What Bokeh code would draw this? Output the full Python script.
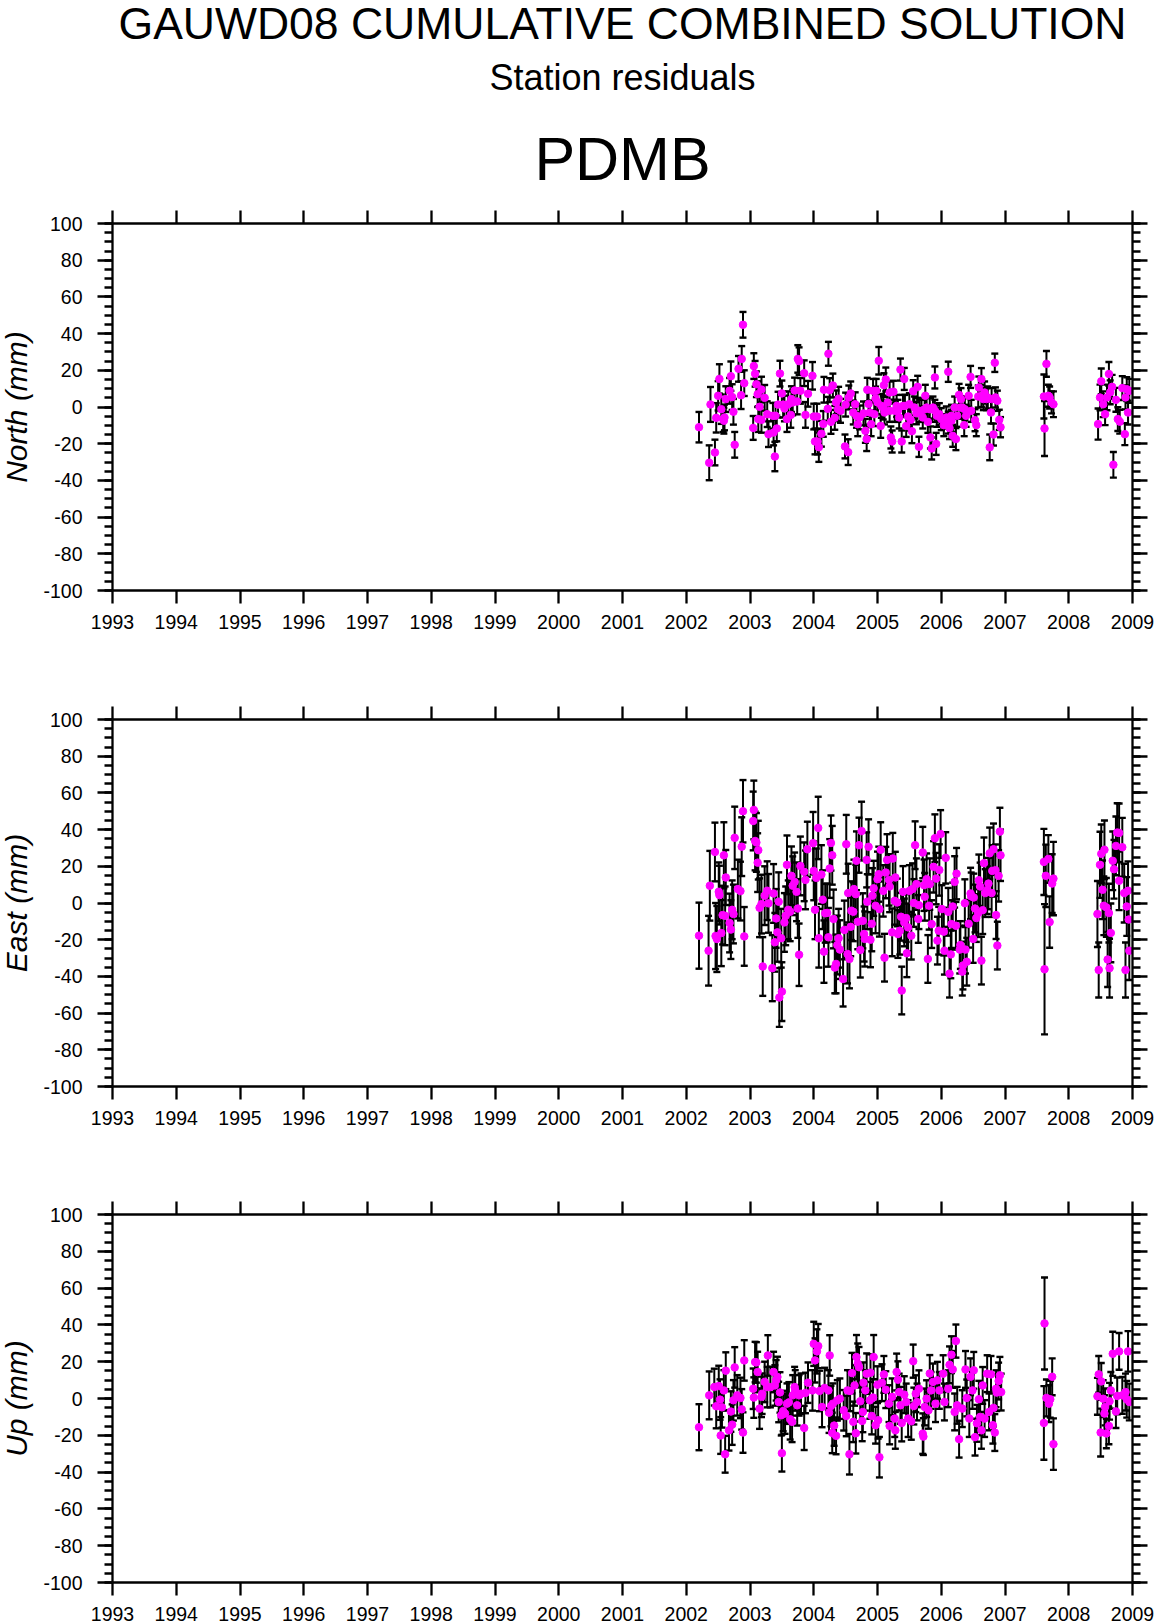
from bokeh.embed import file_html
from bokeh.layouts import column
from bokeh.models import FixedTicker, LinearAxis, Title
from bokeh.plotting import figure
from bokeh.resources import INLINE

FONT = "Liberation Sans"
MAGENTA = "#ff00ff"

YEARS = list(range(1993, 2010))
Y_MAJOR = list(range(-100, 101, 20))
Y_MINOR = list(range(-100, 101, 5))

# residuals: decimal year, mm, sigma mm
north_x = [
    2002.20, 2002.36, 2002.38, 2002.45, 2002.47, 2002.50, 2002.52, 2002.55, 2002.58, 2002.60,
    2002.59, 2002.62, 2002.68, 2002.70, 2002.72, 2002.74, 2002.76, 2002.82, 2002.86, 2002.87,
    2002.89, 2002.91, 2003.05, 2003.06, 2003.08, 2003.10, 2003.12, 2003.15, 2003.18, 2003.13,
    2003.18, 2003.23, 2003.27, 2003.29, 2003.36, 2003.37, 2003.40, 2003.39, 2003.42, 2003.44,
    2003.47, 2003.50, 2003.52, 2003.54, 2003.58, 2003.60, 2003.64, 2003.65, 2003.67, 2003.70,
    2003.74, 2003.75, 2003.77, 2003.79, 2003.85, 2003.87, 2003.91, 2003.98, 2004.00, 2004.02,
    2004.05, 2004.06, 2004.08, 2004.12, 2004.15, 2004.16, 2004.22, 2004.23, 2004.25, 2004.27,
    2004.30, 2004.33, 2004.35, 2004.39, 2004.38, 2004.42, 2004.50, 2004.49, 2004.54, 2004.55,
    2004.58, 2004.62, 2004.65, 2004.67, 2004.69, 2004.72, 2004.78, 2004.81, 2004.83, 2004.86,
    2004.84, 2004.90, 2004.95, 2004.93, 2004.98, 2004.97, 2005.02, 2005.05, 2005.09, 2005.10,
    2005.13, 2005.11, 2005.16, 2005.19, 2005.21, 2005.23, 2005.25, 2005.27, 2005.30, 2005.36,
    2005.34, 2005.38, 2005.42, 2005.40, 2005.45, 2005.48, 2005.50, 2005.54, 2005.52, 2005.56,
    2005.58, 2005.61, 2005.63, 2005.65, 2005.75, 2005.71, 2005.77, 2005.79, 2005.83, 2005.85,
    2005.87, 2005.90, 2005.92, 2005.93, 2006.00, 2006.04, 2006.11, 2006.13, 2006.18, 2006.23,
    2006.16, 2006.21, 2006.25, 2006.28, 2006.31, 2006.36, 2006.33, 2006.39, 2006.43, 2006.46,
    2006.47, 2006.53, 2006.55, 2006.59, 2006.63, 2006.58, 2006.68, 2006.71, 2006.76, 2006.78,
    2006.82, 2006.84, 2006.85, 2006.88, 2006.91, 2006.93, 2004.88, 2005.00, 2005.06, 2005.19,
    2005.32, 2005.43, 2005.66, 2005.69, 2005.74, 2005.82, 2005.90, 2005.97, 2006.08, 2006.11,
    2006.16, 2006.30, 2006.37, 2006.63, 2006.73, 2006.66, 2006.79, 2007.61, 2007.62, 2007.65,
    2007.68, 2007.70, 2007.73, 2007.76, 2008.46, 2008.49, 2008.51, 2008.54, 2008.57, 2008.60,
    2008.63, 2008.65, 2008.68, 2008.70, 2008.74, 2008.77, 2008.80, 2008.84, 2008.88, 2008.89,
    2008.91, 2008.93, 2008.95,
]
north_mm = [
    -11.0, -30.4, 1.4, -24.8, -5.9, 6.1, 15.3, -1.2, -6.6, -5.7,
    -7.5, 4.3, 8.8, 16.8, 5.4, -2.6, -20.6, 20.8, 6.4, 26.2,
    44.8, 13.0, -11.4, 22.3, 18.1, 12.4, 7.0, 0.1, 9.5, -6.6,
    -7.0, 5.0, -3.9, -14.8, -4.8, -13.9, -4.8, -27.0, -11.7, 1.3,
    18.2, 7.4, 1.3, -0.8, -6.6, 1.5, -4.3, 4.3, 2.5, 9.0,
    3.0, 26.2, 25.0, 8.8, 18.4, -4.3, 7.2, 17.0, -5.2, -18.8,
    -5.2, -18.8, -21.9, -14.6, -9.2, 9.4, -1.0, 29.0, 9.2, -8.1,
    11.7, -5.9, 2.5, 4.5, -1.2, -2.1, 1.3, -21.5, -24.6, 5.2,
    7.4, -3.0, 1.5, -4.8, -9.4, -5.7, -3.5, -13.0, -17.5, 1.7,
    9.4, -9.4, -3.9, 8.8, 8.8, 4.6, 25.2, -10.3, -0.3, 11.9,
    15.0, -3.0, 2.4, 7.9, -16.6, -18.8, 8.3, -2.1, 0.6, 20.4,
    -5.7, -18.8, 15.3, 0.6, -10.3, -5.2, 1.5, -13.2, -7.0, 8.6,
    -0.3, -3.4, 11.0, -21.7, 6.1, -5.7, -0.3, -8.1, -16.6, -22.6,
    -0.3, 16.1, -20.1, -4.8, -6.6, -9.9, 19.2, -11.5, -15.7, -17.5,
    -4.8, -0.3, -4.8, 6.6, 4.3, -9.9, -0.3, -4.8, 6.1, 16.4,
    -2.1, -7.2, -9.9, 10.6, 15.2, 5.7, 7.9, 4.3, -22.0, -3.0,
    -15.0, 24.1, 5.2, 3.4, -7.0, -11.0, -3.0, 2.5, 0.6, -2.1,
    -2.1, 0.6, -2.1, -2.1, -1.2, -1.2, -2.1, -3.9, -5.7, -8.5,
    -7.5, -0.3, -1.2, 6.0, 5.2, 4.3, 4.3, 5.7, -11.7, 23.5,
    6.1, 5.2, 2.5, 1.5, -9.3, 5.2, 14.0, 1.5, -3.9, 5.2,
    18.0, 8.0, 11.0, -31.5, 3.9, -6.6, -8.0, 10.3, -14.8, 5.2,
    9.7, -3.0, 8.8,
]
north_err = [
    8.3, 9.5, 9.5, 7.0, 8.0, 8.0, 8.0, 8.0, 7.0, 7.0,
    7.0, 7.0, 7.0, 8.0, 7.0, 7.0, 7.0, 7.0, 7.5, 7.0,
    7.0, 7.0, 6.5, 7.0, 7.0, 7.0, 7.0, 7.0, 7.0, 7.0,
    7.0, 7.0, 7.0, 7.0, 7.0, 7.0, 7.0, 8.0, 7.0, 7.0,
    7.0, 7.0, 7.0, 7.0, 7.0, 7.0, 7.0, 7.0, 7.0, 7.0,
    7.0, 7.5, 7.5, 7.0, 7.0, 7.0, 7.0, 7.5, 7.0, 7.0,
    7.0, 7.0, 8.0, 7.0, 7.0, 7.0, 6.5, 6.5, 6.5, 6.5,
    6.5, 6.5, 6.5, 6.5, 6.5, 6.5, 6.5, 6.5, 7.0, 6.5,
    6.5, 6.5, 6.5, 6.5, 6.5, 6.5, 6.5, 6.5, 6.5, 6.5,
    6.5, 6.5, 6.5, 6.5, 6.5, 6.5, 7.5, 6.5, 6.5, 6.5,
    6.5, 6.5, 6.0, 6.0, 6.0, 6.0, 6.0, 6.0, 6.0, 6.0,
    6.0, 6.0, 6.0, 6.0, 6.0, 6.0, 6.0, 6.5, 6.0, 6.0,
    6.0, 6.0, 6.0, 5.5, 6.0, 6.0, 6.0, 6.0, 6.0, 6.0,
    6.0, 6.0, 6.0, 6.0, 6.0, 6.0, 5.5, 6.0, 6.0, 6.0,
    6.0, 6.0, 6.0, 6.0, 6.0, 6.0, 6.0, 6.0, 6.0, 6.0,
    6.0, 6.0, 6.0, 6.0, 6.0, 6.0, 6.0, 6.0, 7.0, 6.0,
    6.0, 5.0, 5.5, 5.5, 5.5, 5.5, 6.5, 6.5, 6.5, 6.0,
    6.0, 6.0, 6.0, 6.0, 6.0, 6.0, 6.0, 6.0, 6.0, 6.0,
    6.0, 6.0, 6.0, 6.0, 6.0, 6.0, 6.0, 12.0, 15.0, 7.0,
    6.0, 6.0, 6.0, 7.0, 8.5, 7.0, 7.0, 7.0, 6.0, 7.0,
    6.5, 6.5, 6.5, 7.0, 6.5, 6.5, 6.5, 6.5, 6.0, 6.5,
    6.5, 6.5, 6.5,
]

east_x = [
    2002.20, 2002.35, 2002.37, 2002.45, 2002.48, 2002.51, 2002.52, 2002.46, 2002.55, 2002.57,
    2002.59, 2002.61, 2002.62, 2002.68, 2002.70, 2002.72, 2002.74, 2002.76, 2002.81, 2002.85,
    2002.87, 2002.89, 2002.91, 2003.06, 2003.05, 2003.08, 2003.10, 2003.13, 2003.12, 2003.15,
    2003.18, 2003.20, 2003.23, 2003.27, 2003.29, 2003.35, 2003.37, 2003.39, 2003.41, 2003.43,
    2003.45, 2003.46, 2003.50, 2003.49, 2003.54, 2003.56, 2003.58, 2003.60, 2003.63, 2003.65,
    2003.67, 2003.70, 2003.73, 2003.75, 2003.77, 2003.79, 2003.85, 2003.87, 2003.90, 2003.99,
    2004.00, 2004.02, 2004.04, 2004.07, 2004.08, 2004.12, 2004.14, 2004.16, 2004.18, 2004.21,
    2004.23, 2004.25, 2004.27, 2004.29, 2004.31, 2004.33, 2004.35, 2004.37, 2004.39, 2004.41,
    2004.46, 2004.48, 2004.51, 2004.53, 2004.54, 2004.56, 2004.58, 2004.59, 2004.62, 2004.63,
    2004.66, 2004.67, 2004.69, 2004.71, 2004.73, 2004.75, 2004.77, 2004.79, 2004.80, 2004.83,
    2004.84, 2004.86, 2004.89, 2004.91, 2004.92, 2004.94, 2004.97, 2005.00, 2005.02, 2005.03,
    2005.05, 2005.09, 2005.11, 2005.13, 2005.15, 2005.18, 2005.19, 2005.23, 2005.24, 2005.27,
    2005.28, 2005.31, 2005.32, 2005.35, 2005.38, 2005.37, 2005.40, 2005.42, 2005.45, 2005.48,
    2005.46, 2005.50, 2005.53, 2005.55, 2005.57, 2005.59, 2005.61, 2005.64, 2005.65, 2005.71,
    2005.73, 2005.74, 2005.77, 2005.79, 2005.81, 2005.82, 2005.85, 2005.88, 2005.90, 2005.92,
    2005.94, 2005.96, 2005.97, 2005.99, 2006.01, 2006.04, 2006.05, 2006.07, 2006.11, 2006.13,
    2006.15, 2006.16, 2006.18, 2006.21, 2006.23, 2006.24, 2006.29, 2006.30, 2006.33, 2006.34,
    2006.37, 2006.38, 2006.40, 2006.43, 2006.46, 2006.47, 2006.50, 2006.51, 2006.53, 2006.55,
    2006.58, 2006.59, 2006.61, 2006.63, 2006.65, 2006.67, 2006.69, 2006.72, 2006.74, 2006.76,
    2006.79, 2006.80, 2006.82, 2006.85, 2006.86, 2006.88, 2006.90, 2006.92, 2006.93, 2007.61,
    2007.62, 2007.64, 2007.68, 2007.70, 2007.74, 2007.76, 2008.45, 2008.47, 2008.49, 2008.51,
    2008.53, 2008.56, 2008.55, 2008.59, 2008.61, 2008.63, 2008.64, 2008.66, 2008.69, 2008.71,
    2008.74, 2008.76, 2008.79, 2008.79, 2008.84, 2008.87, 2008.89, 2008.91, 2008.93, 2008.94,
    2008.95,
]
east_mm = [
    -17.8, -26.0, 9.4, 27.8, -19.6, 6.1, 4.3, -18.0, -16.4, -6.6,
    26.0, -7.0, 13.9, -10.9, -14.5, -3.7, -6.0, 35.5, 7.6, 6.5,
    30.7, 50.0, -18.2, 50.7, 44.7, 33.8, 33.0, 28.8, 22.0, -2.6,
    -0.6, -34.6, 4.0, 6.7, -0.2, -35.5, 5.2, -21.4, -8.4, -16.0,
    0.7, -51.5, -48.3, -19.2, -10.6, -7.0, 20.8, -3.7, -4.8, 14.8,
    9.4, 11.5, 6.1, -3.0, -28.2, 20.2, 17.0, 12.6, 29.3, 32.6,
    17.5, -3.7, 13.7, 40.9, -19.2, 15.5, 1.8, -26.5, -5.6, -5.4,
    -18.7, 18.8, 32.7, 26.0, -8.7, -35.2, -33.2, -22.9, -19.2, -25.4,
    -41.4, -14.7, 32.0, -27.8, 5.4, -30.5, -13.0, -4.2, -4.8, 7.6,
    4.8, 23.0, -10.2, 31.5, -25.6, 39.2, -9.7, -16.9, -19.6, 23.5,
    0.7, 30.6, -20.0, -11.3, 4.0, 8.0, -1.5, 13.0, 15.7, -3.3,
    29.0, 6.6, -29.8, 16.6, 23.5, 12.6, 9.0, -16.0, 24.2, 1.2,
    13.9, 0.3, -16.9, -15.1, -47.7, -7.5, 6.1, -10.6, -8.2, -13.3,
    -27.4, 6.6, -17.8, 7.6, 0.0, 31.5, 10.3, -8.7, -1.2, 27.5,
    9.7, 3.4, 13.0, -30.5, -1.5, 10.3, -11.5, 19.7, 35.3, 13.3,
    -20.5, -15.1, 18.0, 37.6, -3.3, -15.6, -26.0, 24.6, -4.8, -38.5,
    -28.0, -11.5, -1.9, 11.5, -12.4, 16.0, -25.4, -22.9, -37.4, -34.1,
    -0.1, -25.4, -32.0, -11.3, 5.2, 3.6, -19.6, 3.0, -3.0, -8.2,
    -5.5, 12.4, 9.0, -31.4, -3.9, 21.7, 5.4, 7.0, 10.6, 27.1,
    5.4, 17.5, 29.3, 17.9, -6.6, -23.2, 14.8, 38.9, 26.0, 22.4,
    -36.1, 14.8, 24.0, -10.4, 10.6, 13.3, -6.0, -36.5, 20.8, 26.8,
    7.2, 29.0, -1.5, -2.4, -30.8, -5.5, -35.5, -16.3, 23.0, 18.4,
    31.1, 38.4, 38.2, 12.1, 30.4, 5.4, -36.5, -1.9, 6.7, -9.0,
    -26.0,
]
east_err = [
    18.0, 19.0, 19.0, 16.0, 18.0, 16.0, 16.0, 18.0, 18.0, 16.0,
    18.0, 16.0, 15.0, 16.0, 16.0, 16.0, 16.0, 17.0, 16.0, 16.0,
    16.0, 17.0, 16.0, 16.0, 16.0, 16.0, 16.0, 16.0, 16.0, 16.0,
    16.0, 16.0, 16.0, 16.0, 16.0, 18.0, 16.0, 16.0, 16.0, 16.0,
    16.0, 16.0, 16.0, 16.0, 16.0, 16.0, 16.0, 16.0, 16.0, 16.0,
    16.0, 16.0, 16.0, 16.0, 17.0, 16.0, 16.0, 16.0, 15.0, 17.0,
    16.0, 16.0, 16.0, 17.0, 16.0, 16.0, 16.0, 17.0, 16.0, 16.0,
    16.0, 16.0, 15.0, 16.0, 16.0, 14.0, 16.0, 16.0, 16.0, 16.0,
    15.0, 16.0, 16.0, 16.0, 16.0, 16.0, 16.0, 16.0, 16.0, 16.0,
    16.0, 16.0, 15.0, 15.0, 15.0, 16.0, 15.0, 15.0, 15.0, 15.0,
    15.0, 15.0, 15.0, 15.0, 15.0, 15.0, 15.0, 15.0, 15.0, 15.0,
    15.0, 14.0, 13.0, 14.0, 14.0, 14.0, 14.0, 13.0, 14.0, 13.0,
    14.0, 13.0, 13.0, 13.0, 13.0, 13.0, 14.0, 13.0, 13.0, 13.0,
    13.0, 14.0, 13.0, 14.0, 13.0, 13.0, 14.0, 13.0, 13.0, 14.0,
    14.0, 13.0, 14.0, 13.0, 13.0, 14.0, 13.0, 14.0, 13.0, 14.0,
    13.0, 13.0, 14.0, 13.0, 13.0, 13.0, 13.0, 14.0, 13.0, 13.0,
    13.0, 13.0, 13.0, 14.0, 13.0, 14.0, 13.0, 13.0, 13.0, 13.0,
    13.0, 13.0, 13.0, 13.0, 14.0, 13.0, 13.0, 13.0, 13.0, 13.0,
    13.0, 14.0, 13.0, 13.0, 13.0, 14.0, 13.0, 13.0, 14.0, 14.0,
    13.0, 14.0, 14.0, 14.0, 13.0, 13.0, 14.0, 13.0, 14.0, 18.0,
    35.5, 17.0, 13.0, 14.0, 16.0, 20.0, 18.0, 15.0, 18.0, 16.0,
    16.0, 16.0, 16.0, 16.0, 15.0, 16.0, 16.0, 16.0, 16.0, 16.0,
    16.0, 16.0, 16.0, 16.0, 16.0, 16.0, 15.0, 16.0, 16.0, 16.0,
    16.0,
]

up_x = [
    2002.20, 2002.36, 2002.44, 2002.47, 2002.51, 2002.53, 2002.54, 2002.56, 2002.59, 2002.61,
    2002.62, 2002.67, 2002.70, 2002.72, 2002.74, 2002.76, 2002.80, 2002.85, 2002.87, 2002.89,
    2002.91, 2003.05, 2003.06, 2003.08, 2003.10, 2003.12, 2003.15, 2003.18, 2003.19, 2003.23,
    2003.27, 2003.28, 2003.32, 2003.37, 2003.39, 2003.41, 2003.43, 2003.45, 2003.47, 2003.49,
    2003.50, 2003.52, 2003.55, 2003.58, 2003.61, 2003.63, 2003.66, 2003.67, 2003.70, 2003.71,
    2003.74, 2003.77, 2003.80, 2003.85, 2003.87, 2003.91, 2003.98, 2004.00, 2004.02, 2004.05,
    2004.07, 2004.09, 2004.13, 2004.17, 2004.23, 2004.24, 2004.25, 2004.27, 2004.30, 2004.32,
    2004.29, 2004.35, 2004.37, 2004.41, 2004.47, 2004.51, 2004.53, 2004.56, 2004.57, 2004.60,
    2004.62, 2004.64, 2004.66, 2004.67, 2004.69, 2004.71, 2004.73, 2004.76, 2004.77, 2004.78,
    2004.81, 2004.83, 2004.88, 2004.89, 2004.91, 2004.94, 2004.93, 2004.97, 2005.00, 2005.01,
    2005.03, 2005.07, 2005.10, 2005.13, 2005.18, 2005.19, 2005.23, 2005.27, 2005.28, 2005.30,
    2005.32, 2005.34, 2005.36, 2005.38, 2005.42, 2005.45, 2005.48, 2005.53, 2005.56, 2005.57,
    2005.60, 2005.62, 2005.65, 2005.71, 2005.72, 2005.74, 2005.77, 2005.80, 2005.82, 2005.84,
    2005.87, 2005.91, 2005.94, 2005.97, 2006.03, 2006.05, 2006.11, 2006.13, 2006.16, 2006.18,
    2006.21, 2006.23, 2006.28, 2006.25, 2006.33, 2006.38, 2006.40, 2006.44, 2006.46, 2006.49,
    2006.51, 2006.53, 2006.56, 2006.59, 2006.61, 2006.63, 2006.65, 2006.68, 2006.72, 2006.75,
    2006.78, 2006.81, 2006.82, 2006.84, 2006.86, 2006.87, 2006.90, 2006.92, 2006.94, 2007.61,
    2007.62, 2007.65, 2007.69, 2007.71, 2007.74, 2007.76, 2008.45, 2008.47, 2008.50, 2008.51,
    2008.54, 2008.56, 2008.57, 2008.59, 2008.63, 2008.64, 2008.66, 2008.69, 2008.74, 2008.76,
    2008.79, 2008.84, 2008.89, 2008.91, 2008.93, 2008.95,
]
up_mm = [
    -15.6, 1.7, 6.2, -4.2, 6.8, -0.6, -20.1, -4.8, 4.4, -30.3,
    15.1, -17.3, -7.1, -14.2, -1.0, 16.9, 1.7, 0.3, -5.9, -18.5,
    20.7, 5.3, 0.5, 19.8, 19.6, 14.4, -5.5, 0.9, 2.6, 9.0,
    6.2, 23.4, 6.2, 14.4, 7.1, 9.9, 11.7, -1.9, 3.3, -9.1,
    -29.7, -6.8, -8.2, -2.8, -2.1, -11.3, -12.7, 1.7, 6.2, 4.4,
    -3.7, 1.7, 2.6, -16.0, 3.0, 8.6, 4.4, 29.7, 20.7, 25.6,
    28.5, 4.1, -4.6, 5.7, 4.4, -7.7, 23.4, -4.1, -2.8, -14.7,
    -18.7, -20.3, -1.0, -0.1, -6.4, -9.5, 4.4, -30.3, 4.1, 13.8,
    -12.7, 7.1, -18.9, 22.5, 18.9, 17.0, -1.5, -12.2, -7.3, 8.6,
    4.4, 13.5, -1.0, 14.0, -9.5, 22.5, 0.5, -14.5, 7.5, -11.8,
    -31.9, 8.6, 13.1, 4.8, -2.8, -14.9, 0.9, -10.9, -17.3, 14.4,
    10.2, 3.5, -3.7, -13.3, 2.1, -1.9, -10.9, -12.4, 20.3, -4.1,
    2.6, -1.9, 5.3, -19.1, -20.7, -4.6, -0.1, -6.4, 13.6, 4.4,
    9.0, -2.8, 9.9, 4.4, 13.5, -1.9, 5.3, 18.3, 23.8, 15.8,
    -7.3, 31.2, -22.1, -3.7, -5.5, 15.8, 0.3, -10.9, 11.8, 4.4,
    15.3, -21.0, -13.5, -0.4, -10.0, -17.3, 7.1, -10.9, 13.5, -7.3,
    13.1, -14.5, -5.1, -18.5, 5.3, 3.2, 9.5, 12.6, 3.5, -13.3,
    40.8, 0.3, -2.8, -0.4, 11.8, -24.8, 1.2, 13.1, -18.5, 9.3,
    -0.1, -8.2, -4.6, -19.0, -14.9, -1.5, 4.4, 24.3, -7.0, 1.4,
    25.6, 1.7, 3.5, -0.4, 25.6, -1.9,
]
up_err = [
    12.5, 13.0, 10.0, 12.0, 11.0, 11.0, 10.0, 11.0, 11.0, 10.0,
    10.0, 11.0, 11.0, 11.0, 11.0, 11.0, 11.0, 11.0, 11.0, 11.0,
    11.0, 11.0, 11.0, 11.0, 11.0, 11.0, 11.0, 11.0, 11.0, 11.0,
    11.0, 11.0, 11.0, 11.0, 11.0, 11.0, 11.0, 11.0, 11.0, 11.0,
    10.0, 11.0, 11.0, 11.0, 11.0, 11.0, 11.0, 11.0, 11.0, 11.0,
    11.0, 11.0, 11.0, 12.0, 11.0, 11.0, 11.0, 12.0, 12.0, 12.0,
    12.0, 11.0, 11.0, 11.0, 11.0, 11.0, 11.0, 11.0, 11.0, 11.0,
    11.0, 10.0, 11.0, 11.0, 11.0, 11.0, 11.0, 11.0, 11.0, 11.0,
    11.0, 11.0, 11.0, 12.0, 11.0, 11.0, 11.0, 11.0, 11.0, 11.0,
    11.0, 11.0, 10.0, 10.0, 10.0, 12.0, 10.0, 10.0, 10.0, 10.0,
    11.0, 10.0, 10.0, 10.0, 10.0, 10.0, 10.0, 10.0, 10.0, 10.0,
    10.0, 10.0, 10.0, 10.0, 10.0, 10.0, 10.0, 10.0, 9.0, 10.0,
    10.0, 10.0, 10.0, 11.0, 10.0, 10.0, 10.0, 10.0, 10.0, 10.0,
    10.0, 10.0, 10.0, 10.0, 10.0, 10.0, 10.0, 10.0, 10.0, 10.0,
    10.0, 9.0, 10.0, 10.0, 10.0, 10.0, 10.0, 10.0, 10.0, 10.0,
    10.0, 10.0, 10.0, 10.0, 10.0, 10.0, 10.0, 10.0, 10.0, 10.0,
    10.0, 10.0, 10.0, 10.0, 10.0, 10.0, 10.0, 10.0, 10.0, 20.0,
    25.0, 10.0, 10.0, 10.0, 10.0, 14.0, 10.0, 10.0, 13.0, 10.0,
    10.0, 10.0, 10.0, 8.0, 10.0, 10.0, 10.0, 12.0, 9.0, 10.0,
    10.0, 10.0, 10.0, 10.0, 11.0, 10.0,
]


def make_panel(name, x, y, err, height, border_top, frame_height, border_bottom):
    p = figure(width=1160, height=height, frame_width=1020, frame_height=frame_height,
               x_range=(1993, 2009), y_range=(-100, 100),
               min_border_left=116, min_border_right=24,
               min_border_top=border_top, min_border_bottom=border_bottom,
               x_axis_type=None, y_axis_type=None,
               output_backend="svg", toolbar_location=None)
    p.grid.visible = False
    p.outline_line_color = None

    x_ticks = FixedTicker(ticks=YEARS, minor_ticks=[])
    y_ticks = FixedTicker(ticks=Y_MAJOR, minor_ticks=Y_MINOR)

    for side in ["below", "above"]:
        axis = LinearAxis(ticker=x_ticks, major_tick_out=13, major_tick_in=0,
                          minor_tick_out=0, minor_tick_in=0,
                          axis_line_width=2.3, major_tick_line_width=2.3,
                          major_label_text_font=FONT, major_label_text_font_size="19.5px",
                          major_label_text_color="black", major_label_standoff=11)
        if side == "above":
            axis.major_label_text_font_size = "0px"
            axis.major_label_text_color = None
        p.add_layout(axis, side)

    for side in ["left", "right"]:
        axis = LinearAxis(ticker=y_ticks, major_tick_out=15, major_tick_in=0,
                          minor_tick_out=8, minor_tick_in=0,
                          axis_line_width=2.3, major_tick_line_width=2.3, minor_tick_line_width=2.3,
                          major_label_text_font=FONT, major_label_text_font_size="19.5px",
                          major_label_text_color="black", major_label_standoff=15,
                          major_label_overrides={v: str(v) for v in Y_MAJOR})
        if side == "left":
            axis.axis_label = name
            axis.axis_label_text_font = FONT
            axis.axis_label_text_font_style = "italic"
            axis.axis_label_text_font_size = "30px"
            axis.axis_label_text_color = "black"
            axis.axis_label_standoff = 7
        else:
            axis.major_label_text_font_size = "0px"
            axis.major_label_text_color = None
        p.add_layout(axis, side)

    lower = [v - e for v, e in zip(y, err)]
    upper = [v + e for v, e in zip(y, err)]
    p.segment(x, lower, x, upper, line_color="black", line_width=2)
    p.scatter(x, lower, marker="dash", size=7, line_color="black", line_width=2.4)
    p.scatter(x, upper, marker="dash", size=7, line_color="black", line_width=2.4)
    p.scatter(x, y, marker="circle", size=7.5, fill_color=MAGENTA, line_color=MAGENTA)
    return p


north = make_panel("North (mm)", north_x, north_mm, north_err, 652, 221, 367, 64)
east = make_panel("East (mm)", east_x, east_mm, east_err, 496, 65, 367, 64)
up = make_panel("Up (mm)", up_x, up_mm, up_err, 473, 64, 368, 41)

# stacked outward from the frame, so PDMB goes in first
for text, size, standoff in [("PDMB", "61px", 36),
                             ("Station residuals", "36px", 14),
                             ("GAUWD08 CUMULATIVE COMBINED SOLUTION", "44.5px", 0)]:
    north.add_layout(Title(text=text, align="center", text_font=FONT, text_font_size=size,
                           text_font_style="normal", text_color="black", standoff=standoff), "above")

page = column(north, east, up, spacing=0, margin=(-4, 0, 0, -4))

with open("out.html", "w") as f:
    f.write(file_html(page, INLINE))
